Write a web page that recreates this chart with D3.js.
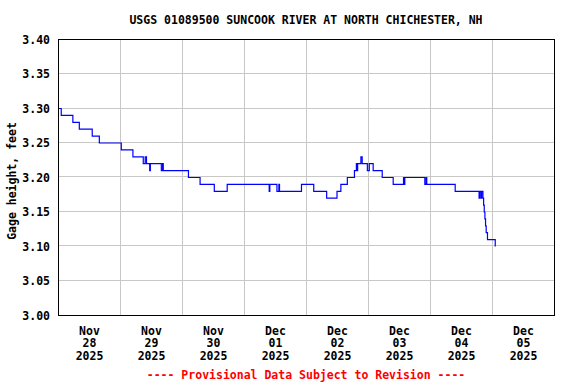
<!DOCTYPE html>
<html>
<head>
<meta charset="utf-8">
<script src="https://cdn.jsdelivr.net/npm/d3@7"></script>
<style>
  body { margin: 0; background: #fff; }
  text { font-family: "DejaVu Sans Mono", monospace; font-weight: bold; font-size: 11.5px; }
</style>
</head>
<body>
<script>
// gage height readings (local time), step changes
var times = [
  "2025-11-28 00:00", "2025-11-28 01:15", "2025-11-28 05:45", "2025-11-28 08:15",
  "2025-11-28 13:15", "2025-11-28 16:00", "2025-11-29 00:30", "2025-11-29 05:00",
  "2025-11-29 09:00", "2025-11-29 09:45", "2025-11-29 10:15", "2025-11-29 11:30",
  "2025-11-29 11:45", "2025-11-29 16:00", "2025-11-29 16:30", "2025-11-29 16:45",
  "2025-11-30 02:30", "2025-11-30 07:00", "2025-11-30 12:30", "2025-11-30 17:30",
  "2025-12-01 09:45", "2025-12-01 10:00", "2025-12-01 12:45", "2025-12-01 13:30",
  "2025-12-01 13:45", "2025-12-01 22:15", "2025-12-02 03:00", "2025-12-02 08:00",
  "2025-12-02 12:00", "2025-12-02 13:30", "2025-12-02 16:00", "2025-12-02 18:45",
  "2025-12-02 19:30", "2025-12-02 19:45", "2025-12-02 20:00", "2025-12-02 21:15",
  "2025-12-02 21:45", "2025-12-02 23:45", "2025-12-03 00:30", "2025-12-03 02:00",
  "2025-12-03 05:30", "2025-12-03 09:45", "2025-12-03 13:45", "2025-12-03 14:00",
  "2025-12-03 14:15", "2025-12-03 22:00", "2025-12-03 22:30", "2025-12-03 22:45",
  "2025-12-04 09:45", "2025-12-04 19:00", "2025-12-04 19:15", "2025-12-04 19:45",
  "2025-12-04 20:00", "2025-12-04 20:30", "2025-12-04 20:45", "2025-12-04 21:00",
  "2025-12-04 21:15", "2025-12-04 21:30", "2025-12-04 21:45", "2025-12-04 22:15",
  "2025-12-05 01:15"
];
var gage = [
  3.30, 3.29, 3.28, 3.27,
  3.26, 3.25, 3.24, 3.23,
  3.22, 3.23, 3.22, 3.21,
  3.22, 3.21, 3.22, 3.21,
  3.20, 3.19, 3.18, 3.19,
  3.18, 3.19, 3.18, 3.19,
  3.18, 3.19, 3.18, 3.17,
  3.18, 3.19, 3.20, 3.21,
  3.22, 3.21, 3.22, 3.23,
  3.22, 3.21, 3.22, 3.21,
  3.20, 3.19, 3.20, 3.19,
  3.20, 3.19, 3.20, 3.19,
  3.18, 3.17, 3.18, 3.17,
  3.18, 3.17, 3.16, 3.15,
  3.14, 3.13, 3.12, 3.11,
  3.10
];
var yTicks = [3.00, 3.05, 3.10, 3.15, 3.20, 3.25, 3.30, 3.35, 3.40];
var dayLabels = ["2025-11-28", "2025-11-29", "2025-11-30", "2025-12-01",
                 "2025-12-02", "2025-12-03", "2025-12-04", "2025-12-05"];

var width = 576,
    height = 384,
    plotLeft = 58, plotRight = 554, plotTop = 39.5, plotBottom = 315.5;

var parseTime = d3.timeParse("%Y-%m-%d %H:%M"),
    parseDay = d3.timeParse("%Y-%m-%d");

var data = times.map(function(t, i) { return { t: parseTime(t), v: gage[i] }; });
var days = dayLabels.map(parseDay);

var x = d3.scaleTime()
    .domain([days[0], d3.timeDay.offset(days[days.length - 1], 1)])
    .range([plotLeft, plotRight]);

var y = d3.scaleLinear()
    .domain([3.00, 3.40])
    .range([plotBottom, plotTop]);

var svg = d3.select("body").append("svg")
    .attr("width", width)
    .attr("height", height);

svg.append("rect")
    .attr("width", width).attr("height", height)
    .attr("fill", "#fff");

// grid
svg.append("g").selectAll("line")
    .data(yTicks)
  .enter().append("line")
    .attr("x1", plotLeft).attr("x2", plotRight)
    .attr("y1", function(d) { return Math.round(y(d)) - 0.5; })
    .attr("y2", function(d) { return Math.round(y(d)) - 0.5; })
    .attr("stroke", "#c8c8c8");

svg.append("g").selectAll("line")
    .data(days.slice(1))
  .enter().append("line")
    .attr("x1", function(d) { return Math.round(x(d)) + 0.5; })
    .attr("x2", function(d) { return Math.round(x(d)) + 0.5; })
    .attr("y1", plotTop).attr("y2", plotBottom)
    .attr("stroke", "#c8c8c8");

// data line
var line = d3.line()
    .curve(d3.curveStepAfter)
    .x(function(d) { return x(d.t); })
    .y(function(d) { return y(d.v); });

svg.append("path")
    .datum(data)
    .attr("d", line)
    .attr("fill", "none")
    .attr("stroke", "#0000ff")
    .attr("stroke-width", 1.2);

// frame
svg.append("rect")
    .attr("x", plotLeft + 0.5).attr("y", plotTop)
    .attr("width", plotRight - plotLeft).attr("height", plotBottom - plotTop)
    .attr("fill", "none")
    .attr("stroke", "#000");

// y axis
var yAxis = svg.append("g")
    .attr("transform", "translate(" + plotLeft + ",0)")
    .call(d3.axisLeft(y).tickValues(yTicks).tickSize(0).tickPadding(8)
      .tickFormat(d3.format(".2f")));
yAxis.select(".domain").remove();
yAxis.selectAll("text")
    .attr("fill", "#000")
    .style("font-family", "DejaVu Sans Mono, monospace")
    .style("font-size", "11.5px")
    .style("font-weight", "bold");

// x axis, labels centred on each day
var noon = days.map(function(d) { return d3.timeHour.offset(d, 12); });
var xAxis = svg.append("g")
    .attr("transform", "translate(0," + plotBottom + ")")
    .call(d3.axisBottom(x).tickValues(noon).tickSize(0).tickFormat(""));
xAxis.select(".domain").remove();
var fmt = [d3.timeFormat("%b"), d3.timeFormat("%d"), d3.timeFormat("%Y")];
xAxis.selectAll(".tick text")
    .attr("y", 0).attr("dy", null)
    .attr("fill", "#000")
    .style("font-family", "DejaVu Sans Mono, monospace")
    .style("font-size", "11.5px")
    .style("font-weight", "bold")
    .each(function(d) {
      var t = d3.select(this);
      fmt.forEach(function(f, i) {
        t.append("tspan").attr("x", 0).attr("y", 19 + i * 12.7).text(f(d));
      });
    });

// titles
svg.append("text")
    .attr("x", 306).attr("y", 24)
    .attr("text-anchor", "middle")
    .text("USGS 01089500 SUNCOOK RIVER AT NORTH CHICHESTER, NH");

svg.append("text")
    .attr("transform", "translate(16,181) rotate(-90)")
    .attr("text-anchor", "middle")
    .text("Gage height, feet");

svg.append("text")
    .attr("x", 306).attr("y", 379)
    .attr("text-anchor", "middle")
    .attr("fill", "#ff0000")
    .text("---- Provisional Data Subject to Revision ----");
</script>
</body>
</html>
